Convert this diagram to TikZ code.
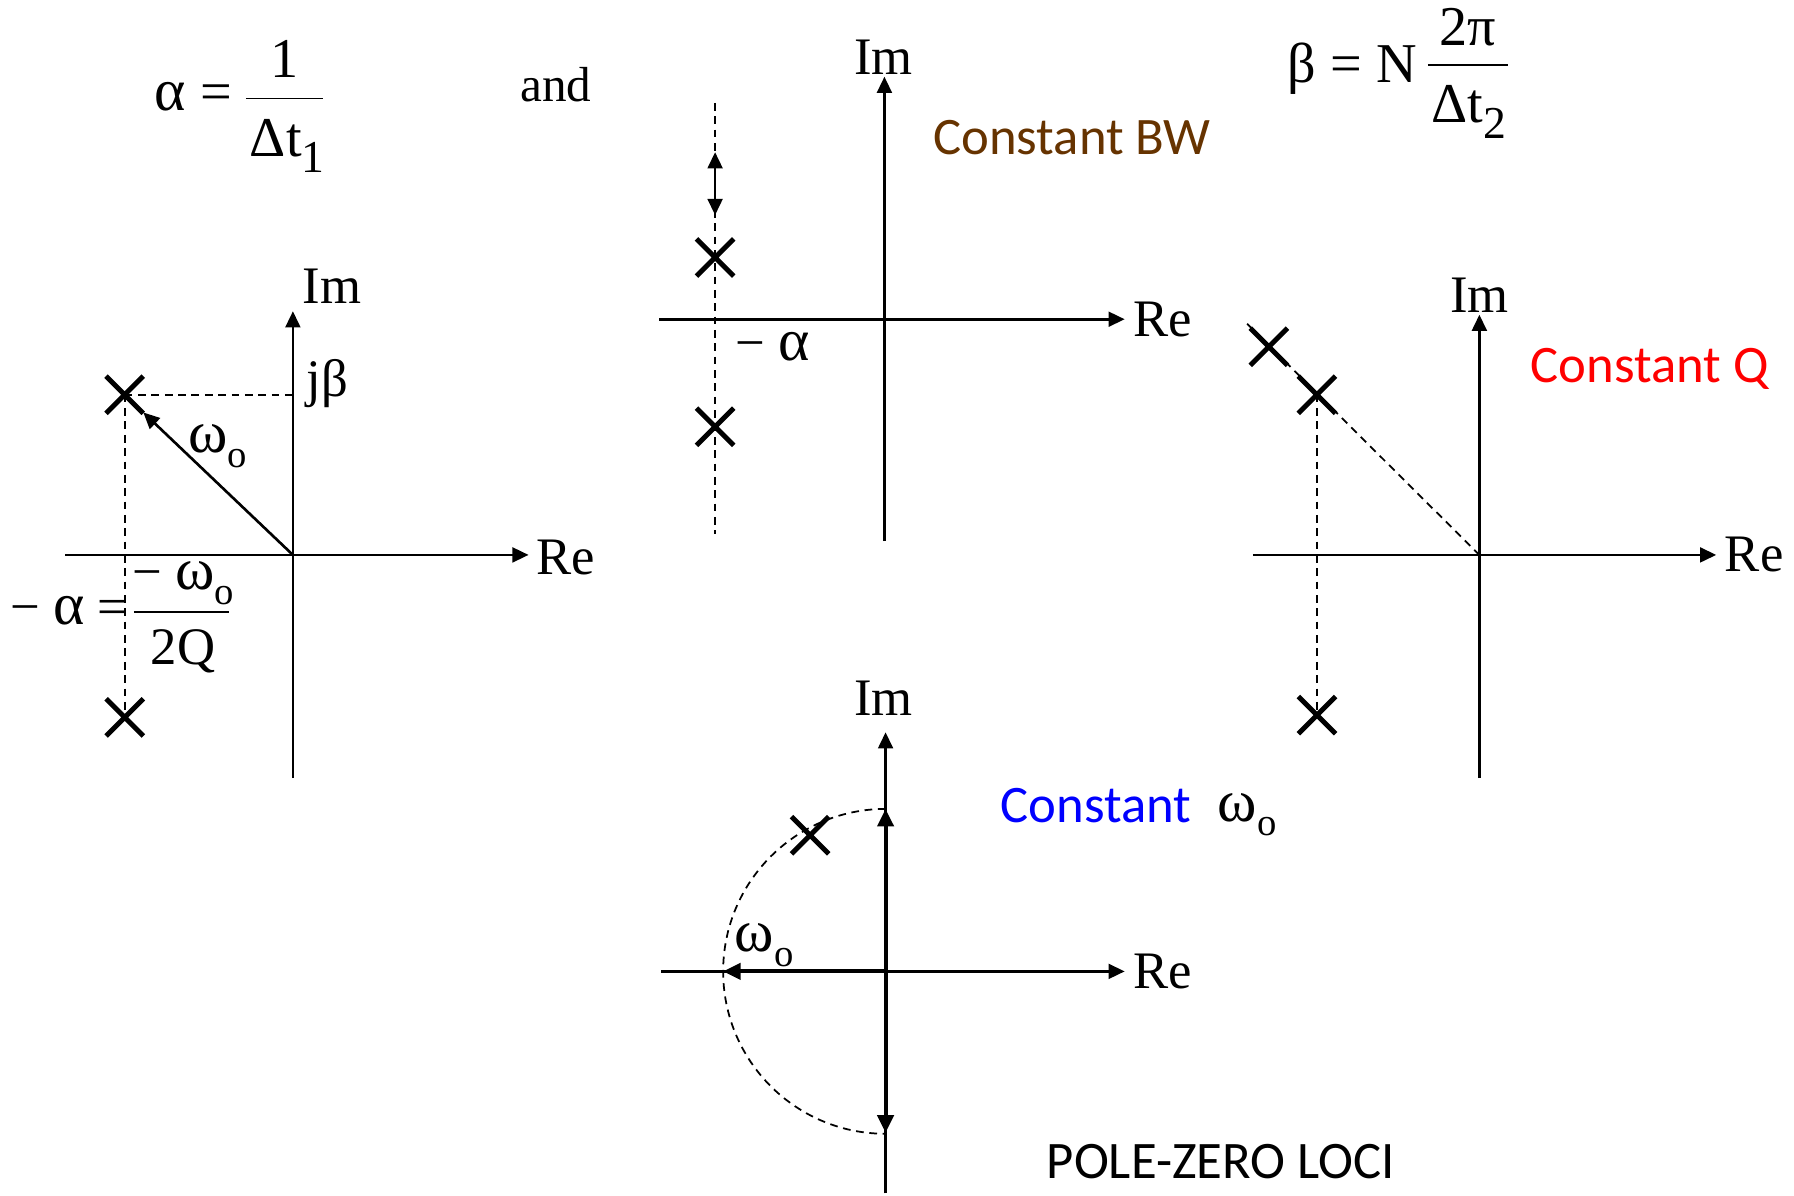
\documentclass[tikz,border=0pt]{standalone}
\usepackage{fontspec}
\setmainfont{Liberation Serif}
\newfontfamily\calib{Carlito}
\usetikzlibrary{arrows.meta,shapes.misc}
\definecolor{bwbrown}{RGB}{102,51,0}
\newcommand\subx[2]{\raisebox{-0.28em}{\fontsize{#1}{#1}\selectfont #2}}
\newcommand\gk[1]{{\fontsize{17}{17}\selectfont #1}}
\begin{document}
\begin{tikzpicture}[x=0.011441cm,y=-0.011441cm,
  axarrow/.style={line width=0.75pt,-{Triangle[length=4.6pt,width=4.2pt]}},
  thickarrow/.style={line width=1.1pt,-{Triangle[length=5pt,width=4.6pt]}},
  plainline/.style={line width=0.75pt},
  dashline/.style={line width=0.5pt,dash pattern=on 2.2pt off 1.6pt},
  pole/.style={draw,cross out,line width=1.4pt,minimum size=9.2pt,inner sep=0pt},
  lbl/.style={inner sep=0pt,font=\fontsize{15}{15}\selectfont},
  fml/.style={inner sep=0pt,font=\fontsize{16}{16}\selectfont},
  cal/.style={inner sep=0pt,font=\calib\fontsize{15}{15}\selectfont}]
\useasboundingbox (0,0) rectangle (1568,1045);

% ---------- top formulas ----------
\node[fml,anchor=base] (alpha) at (169,97) {\gk{α} =};
\coordinate (f1a) at (215,86);
\coordinate (f1b) at (282,86);
\draw[line width=0.5pt] (f1a) -- (f1b);
\node[fml,anchor=base] (num1) at (249,68) {1};
\node[fml,anchor=base] (den1) at (251,137) {Δt\subx{13}{1}};
\node[fml,font=\fontsize{14}{14}\selectfont,anchor=base] (and) at (486,89) {and};

\node[fml,anchor=base] (beta) at (1182,72) {β = N};
\coordinate (f2a) at (1248,57);
\coordinate (f2b) at (1318,57);
\draw[line width=0.5pt] (f2a) -- (f2b);
\node[fml,anchor=base] (num2) at (1283,40) {2π};
\node[fml,anchor=base] (den2) at (1284,107) {Δt\subx{13}{2}};

% ---------- diagram 1 ----------
\coordinate (o1) at (256,485);
\coordinate (re1a) at (57,485);
\coordinate (re1b) at (462,485);
\coordinate (im1a) at (256,680);
\coordinate (im1b) at (256,272);
\draw[axarrow] (re1a) -- (re1b);
\draw[axarrow] (im1a) -- (im1b);
\node[lbl,anchor=west] (re1) at (468,487) {Re};
\node[lbl] (im1) at (290,250) {Im};
\node[pole] (p1a) at (109,345) {};
\node[pole] (p1b) at (109,627) {};
\coordinate (jb1) at (256,345);
\draw[dashline] (p1a.center) -- (jb1);
\draw[dashline] (p1a.center) -- (p1b.center);
\node[lbl] (jbeta) at (286,335) {jβ};
\draw[plainline,-{Triangle[length=4.6pt,width=4.2pt]}] (o1) -- (p1a);
\node[lbl] (w1) at (190,390) {\gk{ω}\subx{11}{o}};
\node[lbl,anchor=base] (ma1) at (60,546) {− \gk{α} =};
\coordinate (f3a) at (117,535);
\coordinate (f3b) at (200,535);
\draw[line width=0.5pt] (f3a) -- (f3b);
\node[lbl,anchor=base] (num3) at (160,515) {− \gk{ω}\subx{11}{o}};
\node[lbl,anchor=base] (den3) at (160,581) {2Q};

% ---------- diagram 2 ----------
\coordinate (o2) at (773,279);
\coordinate (re2a) at (576,279);
\coordinate (re2b) at (983,279);
\coordinate (im2a) at (773,473);
\coordinate (im2b) at (773,67);
\draw[axarrow] (re2a) -- (re2b);
\draw[axarrow] (im2a) -- (im2b);
\node[lbl,anchor=west] (re2) at (990,279) {Re};
\node[lbl] (im2) at (772,50) {Im};
\coordinate (d2a) at (625,90);
\coordinate (d2b) at (625,467);
\draw[dashline] (d2a) -- (d2b);
\coordinate (da2a) at (625,133);
\coordinate (da2b) at (625,188);
\draw[line width=0.75pt,{Triangle[length=4.6pt,width=4.2pt]}-{Triangle[length=4.6pt,width=4.2pt]}] (da2a) -- (da2b);
\node[pole] (p2a) at (625,225) {};
\node[pole] (p2b) at (625,373) {};
\node[lbl] (ma2) at (675,303) {− \gk{α}};
\node[cal,text=bwbrown] (cbw) at (937,120) {Constant BW};

% ---------- diagram 3 ----------
\coordinate (o3) at (1293,485);
\coordinate (re3a) at (1095,485);
\coordinate (re3b) at (1500,485);
\coordinate (im3a) at (1293,680);
\coordinate (im3b) at (1293,275);
\draw[axarrow] (re3a) -- (re3b);
\draw[axarrow] (im3a) -- (im3b);
\node[lbl,anchor=west] (re3) at (1507,485) {Re};
\node[lbl] (im3) at (1293,258) {Im};
\node[pole] (p3a) at (1109,303) {};
\node[pole] (p3b) at (1151,345) {};
\node[pole] (p3c) at (1151,625) {};
\coordinate (d3a) at (1090,283);
\draw[dashline] (d3a) -- (o3);
\draw[dashline] (p3b.center) -- (p3c.center);
\node[cal,text=red] (cq) at (1442,322) {Constant Q};

% ---------- diagram 4 ----------
\coordinate (o4) at (774,849);
\coordinate (re4a) at (578,849);
\coordinate (re4b) at (983,849);
\coordinate (im4a) at (774,1043);
\coordinate (im4b) at (774,640);
\draw[axarrow] (re4a) -- (re4b);
\draw[axarrow] (im4a) -- (im4b);
\node[lbl,anchor=west] (re4) at (990,849) {Re};
\node[lbl] (im4) at (772,610) {Im};
\coordinate (t4u) at (774,707);
\coordinate (t4d) at (774,990);
\coordinate (t4l) at (632,849);
\draw[thickarrow] (o4) -- (t4u);
\draw[thickarrow] (o4) -- (t4d);
\draw[thickarrow] (o4) -- (t4l);
\draw[dashline] (t4u) arc[start angle=90,end angle=270,radius=1.6246cm];
\node[pole] (p4) at (708,730) {};
\node[lbl] (w4) at (668,826) {\gk{ω}\subx{11}{o}};
\node[cal,text=blue] (cw) at (958,704) {Constant};
\node[lbl] (w4b) at (1090,712) {\gk{ω}\subx{11}{o}};
\node[cal] (pzl) at (1067,1015) {POLE-ZERO LOCI};
\end{tikzpicture}
\end{document}
